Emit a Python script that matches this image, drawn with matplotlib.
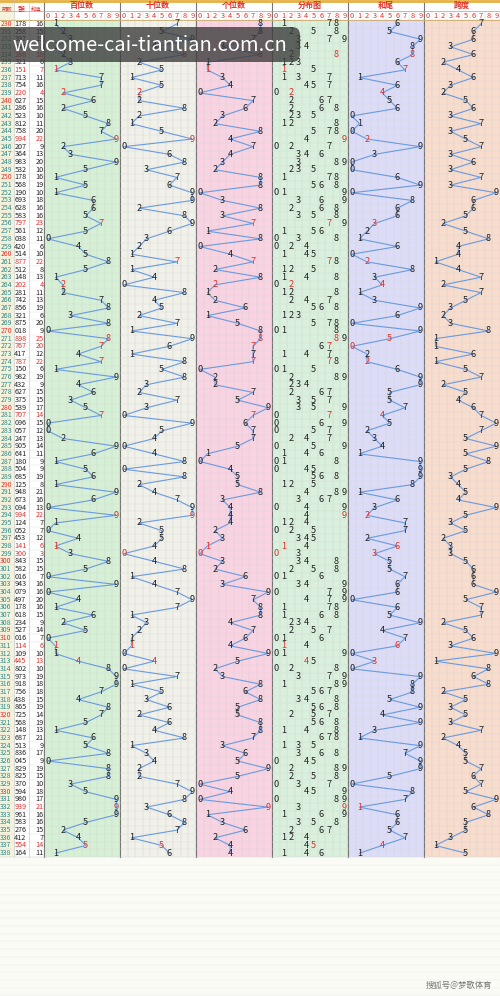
import matplotlib
matplotlib.use("Agg")
import matplotlib.pyplot as plt
from matplotlib.patches import Rectangle, FancyBboxPatch

plt.rcParams['font.family'] = ['Noto Sans CJK SC', 'DejaVu Sans']

issues = list(range(230, 339))
numbers = ["178","258","397","143","288","321","151","713","754","220",
           "627","286","523","812","758","994","207","364","983","532",
           "178","568","190","693","628","583","797","561","038","420",
           "514","877","512","148","202","281","742","856","321","875",
           "018","898","767","417","787","150","982","432","627","375",
           "539","707","096","057","247","905","641","180","504","685",
           "125","948","673","094","994","124","052","453","141","300",
           "843","582","016","943","079","497","178","618","234","527",
           "016","114","109","445","802","973","918","756","438","865",
           "725","568","148","687","513","836","045","829","825","370",
           "594","980","939","961","583","276","412","554","164"]
section_titles = ["百位数", "十位数", "个位数", "分布图", "和尾", "跨度"]
section_colors = ["#d6f0d6", "#f1f1ea", "#f9d3e2", "#d9f0dc", "#dcdcf8", "#f8dccc"]

W, H = 500, 996
fig = plt.figure(figsize=(5, 9.96), dpi=100)
ax = fig.add_axes([0, 0, 1, 1])
ax.set_xlim(0, W); ax.set_ylim(H, 0); ax.axis('off')
fig.patch.set_facecolor("#fbfbf6")

top = 20.0
rh = (857 - top) / len(numbers)
sec_x0 = 44.0
sec_w = (W - sec_x0) / 6
cw = sec_w / 10
bottom = top + rh * len(numbers)
RED = "#e0302a"; BLUE = "#6a9ae0"

ax.add_patch(Rectangle((0, 0), 14, bottom, color="#f6f3dc", lw=0))
ax.add_patch(Rectangle((14, 0), 30, bottom, color="#ffffff", lw=0))
ax.text(7, 9, "期数", fontsize=3.8, color=RED, ha='center', va='center')
ax.text(21.5, 9, "开奖\n号码", fontsize=2.8, color=RED, ha='center', va='center', linespacing=0.9)
ax.text(36.5, 9, "和值", fontsize=3.8, color=RED, ha='center', va='center')
for k in range(0, 70):
    ax.plot([0, W], [bottom + k * rh] * 2, color="#e6e6e6", lw=0.3)

for s in range(6):
    x0 = sec_x0 + s * sec_w
    ax.add_patch(Rectangle((x0, top), sec_w, bottom - top, color=section_colors[s], lw=0))
    ax.add_patch(Rectangle((x0, 0), sec_w, top, color="#ffffff", lw=0))
    ax.text(x0 + sec_w / 2, 5.5, section_titles[s], fontsize=5.8, color=RED,
            ha='center', va='center', fontweight='bold')
    for d in range(10):
        ax.text(x0 + (d + 0.5) * cw, 15.5, str(d), fontsize=5.3, color=RED, ha='center', va='center')
    for d in range(11):
        ax.plot([x0 + d * cw] * 2, [11, bottom], color="#cfcfcf", lw=0.3)
    ax.plot([x0, x0], [0, bottom], color="#777777", lw=0.8)
ax.plot([0, W], [11, 11], color="#c8a050", lw=0.5)
ax.plot([0, W], [top, top], color="#c8a050", lw=0.6)
ax.plot([0, W], [1, 1], color="#e8b040", lw=2)
for xv in (14, 29):
    ax.plot([xv, xv], [0, bottom], color="#bbbbbb", lw=0.4)
for i in range(len(numbers) + 1):
    ax.plot([0, W], [top + i * rh] * 2, color="#d8d8d8", lw=0.25)

fs = 6.6
series = [[], [], [], [], []]
for i, (iss, num) in enumerate(zip(issues, numbers)):
    y = top + (i + 0.5) * rh
    digs = [int(c) for c in num]
    rep = len(set(digs)) < 3
    col = RED if rep else "#222222"
    ax.text(0.3, y, str(iss), fontsize=5.0, color=RED if iss % 10 == 0 else "#2a8a8a", va='center')
    ax.text(14.3, y, num, fontsize=5.2, color=col, va='center')
    sm = sum(digs)
    ax.text(43.5, y, str(sm), fontsize=5.2, color=col, va='center', ha='right')
    vals = digs + [None, sm % 10, max(digs) - min(digs)]
    for s, v in enumerate(vals):
        x0 = sec_x0 + s * sec_w
        if s == 3:
            for d in sorted(set(digs)):
                ax.text(x0 + (d + 0.5) * cw, y, str(d), fontsize=fs,
                        color=RED if digs.count(d) > 1 else "#222222", ha='center', va='center')
            continue
        idx = s if s < 3 else s - 1
        series[idx].append((x0 + (v + 0.5) * cw, y))
        ax.text(x0 + (v + 0.5) * cw, y, str(v), fontsize=fs, ha='center', va='center',
                color=RED if (rep and s < 3 and digs.count(v) > 1) or (rep and s == 4) else "#222222", zorder=3)

for ser in series:
    xs = [p[0] for p in ser]; ys = [p[1] for p in ser]
    ax.plot(xs, ys, color=BLUE, lw=0.8, zorder=2)

ax.add_patch(FancyBboxPatch((-6, 27), 306, 35, boxstyle="round,pad=0,rounding_size=8",
                            color="#3a3a3a", alpha=0.78, lw=0, zorder=5))
ax.text(12, 45, "welcome-cai-tiantian.com.cn", fontsize=14.5, color="white",
        va='center', ha='left', zorder=6)
ax.text(492, 985, "搜狐号@梦歌体育", fontsize=6, color="#777777", ha='right', va='center')

fig.savefig("out.png", dpi=100)
